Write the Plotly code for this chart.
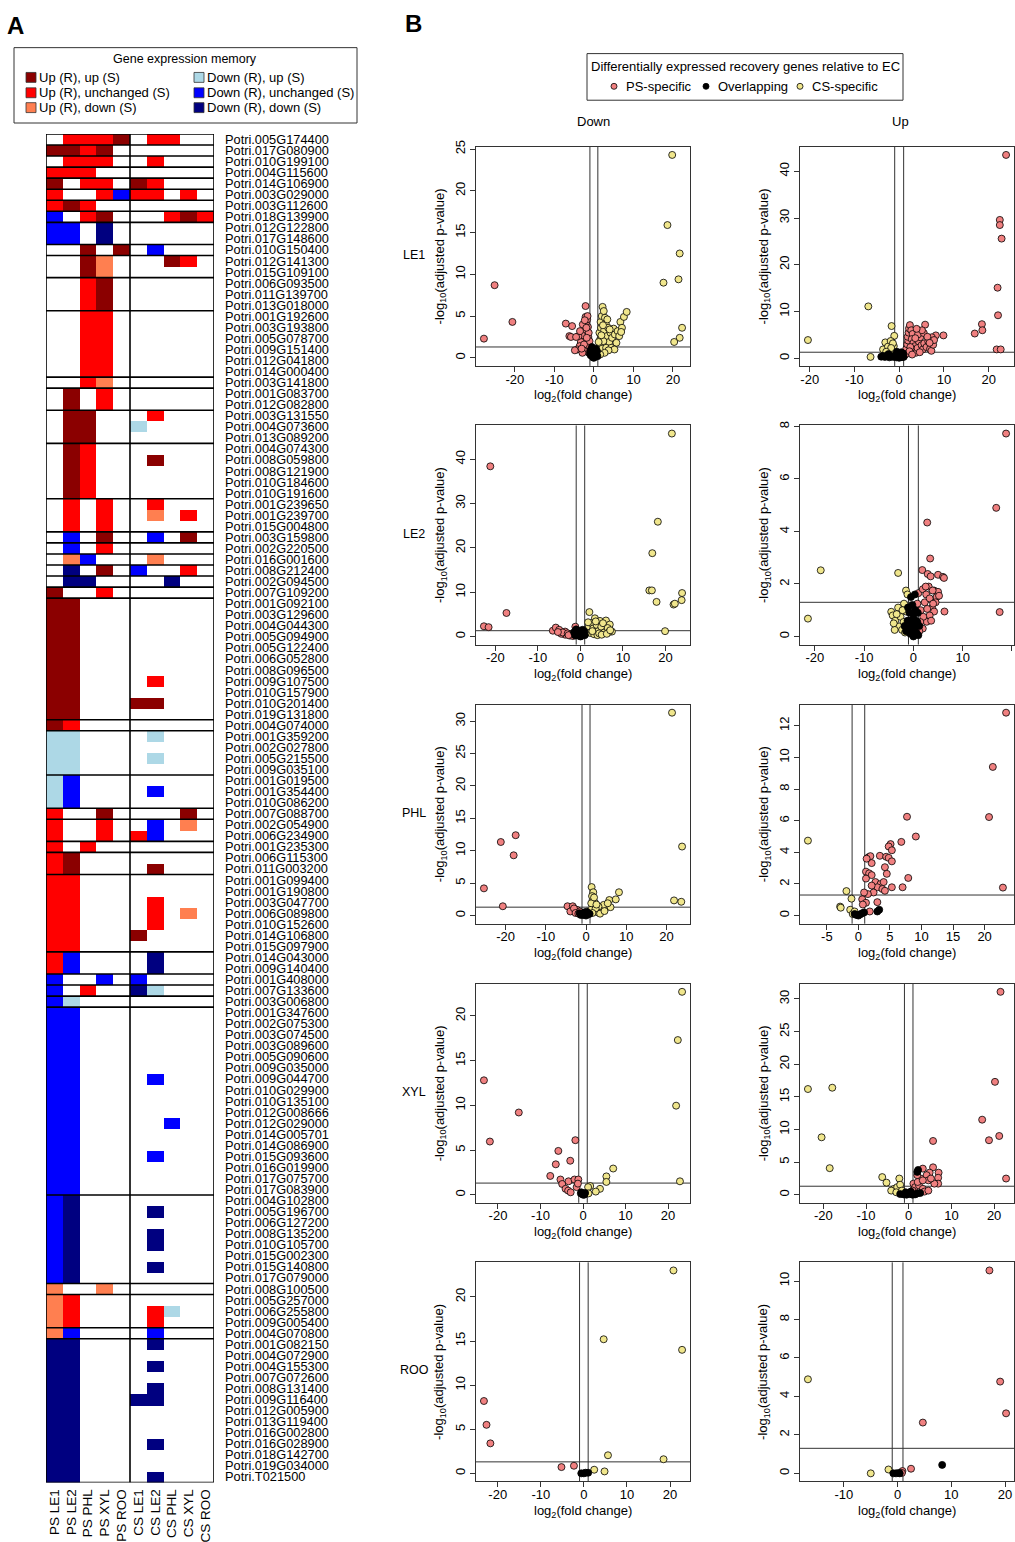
import math
import plotly.graph_objects as go

W, H = 1015, 1542
FONT = "Liberation Sans, Arial, Helvetica, sans-serif"

# ---------------- Panel A: gene expression memory heatmap ----------------
genes = [
    "Potri.005G174400", "Potri.017G080900", "Potri.010G199100", "Potri.004G115600",
    "Potri.014G106900", "Potri.003G029000", "Potri.003G112600", "Potri.018G139900",
    "Potri.012G122800", "Potri.017G148600", "Potri.010G150400", "Potri.012G141300",
    "Potri.015G109100", "Potri.006G093500", "Potri.011G139700", "Potri.013G018000",
    "Potri.001G192600", "Potri.003G193800", "Potri.005G078700", "Potri.009G151400",
    "Potri.012G041800", "Potri.014G000400", "Potri.003G141800", "Potri.001G083700",
    "Potri.012G082800", "Potri.003G131550", "Potri.004G073600", "Potri.013G089200",
    "Potri.004G074300", "Potri.008G059800", "Potri.008G121900", "Potri.010G184600",
    "Potri.010G191600", "Potri.001G239650", "Potri.001G239700", "Potri.015G004800",
    "Potri.003G159800", "Potri.002G220500", "Potri.016G001600", "Potri.008G212400",
    "Potri.002G094500", "Potri.007G109200", "Potri.001G092100", "Potri.003G129600",
    "Potri.004G044300", "Potri.005G094900", "Potri.005G122400", "Potri.006G052800",
    "Potri.008G096500", "Potri.009G107500", "Potri.010G157900", "Potri.010G201400",
    "Potri.019G131800", "Potri.004G074000", "Potri.001G359200", "Potri.002G027800",
    "Potri.005G215500", "Potri.009G035100", "Potri.001G019500", "Potri.001G354400",
    "Potri.010G086200", "Potri.007G088700", "Potri.002G054900", "Potri.006G234900",
    "Potri.001G235300", "Potri.006G115300", "Potri.011G003200", "Potri.001G099400",
    "Potri.001G190800", "Potri.003G047700", "Potri.006G089800", "Potri.010G152600",
    "Potri.014G106800", "Potri.015G097900", "Potri.014G043000", "Potri.009G140400",
    "Potri.001G408000", "Potri.007G133600", "Potri.003G006800", "Potri.001G347600",
    "Potri.002G075300", "Potri.003G074500", "Potri.003G089600", "Potri.005G090600",
    "Potri.009G035000", "Potri.009G044700", "Potri.010G029900", "Potri.010G135100",
    "Potri.012G008666", "Potri.012G029000", "Potri.014G005701", "Potri.014G086900",
    "Potri.015G093600", "Potri.016G019900", "Potri.017G075700", "Potri.017G083900",
    "Potri.004G102800", "Potri.005G196700", "Potri.006G127200", "Potri.008G135200",
    "Potri.010G105700", "Potri.015G002300", "Potri.015G140800", "Potri.017G079000",
    "Potri.008G100500", "Potri.005G257000", "Potri.006G255800", "Potri.009G005400",
    "Potri.004G070800", "Potri.001G082150", "Potri.004G072900", "Potri.004G155300",
    "Potri.007G072600", "Potri.008G131400", "Potri.009G116400", "Potri.012G005900",
    "Potri.013G119400", "Potri.016G002800", "Potri.016G028900", "Potri.018G142700",
    "Potri.019G034000", "Potri.T021500",
]

columns = ["PS LE1", "PS LE2", "PS PHL", "PS XYL", "PS ROO",
           "CS LE1", "CS LE2", "CS PHL", "CS XYL", "CS ROO"]

# 0 none, 1 Up/up, 2 Up/unchanged, 3 Up/down, 4 Down/up, 5 Down/unchanged, 6 Down/down
class_labels = ["", "Up (R), up (S)", "Up (R), unchanged (S)", "Up (R), down (S)",
                "Down (R), up (S)", "Down (R), unchanged (S)", "Down (R), down (S)"]
class_colors = ["#FFFFFF", "#8B0000", "#FF0000", "#FF7F50", "#ADD8E6", "#0000FF", "#000080"]

memory = [
    [0,2,2,2,1, 0,2,2,0,0],
    [1,1,2,1,0, 0,0,0,0,0],
    [0,2,2,2,0, 0,2,0,0,0],
    [2,2,2,0,0, 0,0,0,0,0],
    [1,0,2,2,0, 1,2,0,0,0],
    [2,0,0,2,5, 2,2,0,2,0],
    [2,1,2,0,0, 0,0,0,0,0],
    [5,0,2,1,0, 0,0,2,1,2],
    [5,5,0,6,0, 0,0,0,0,0],
    [5,5,0,6,0, 0,0,0,0,0],
    [0,0,1,0,1, 0,5,0,0,0],
    [0,0,1,3,0, 0,0,1,2,0],
    [0,0,1,3,0, 0,0,0,0,0],
    [0,0,2,1,0, 0,0,0,0,0],
    [0,0,2,1,0, 0,0,0,0,0],
    [0,0,2,1,0, 0,0,0,0,0],
    [0,0,2,2,0, 0,0,0,0,0],
    [0,0,2,2,0, 0,0,0,0,0],
    [0,0,2,2,0, 0,0,0,0,0],
    [0,0,2,2,0, 0,0,0,0,0],
    [0,0,2,2,0, 0,0,0,0,0],
    [0,0,2,2,0, 0,0,0,0,0],
    [0,0,2,3,0, 0,0,0,0,0],
    [0,1,0,2,0, 0,0,0,0,0],
    [0,1,0,2,0, 0,0,0,0,0],
    [0,1,1,0,0, 0,2,0,0,0],
    [0,1,1,0,0, 4,0,0,0,0],
    [0,1,1,0,0, 0,0,0,0,0],
    [0,1,2,0,0, 0,0,0,0,0],
    [0,1,2,0,0, 0,1,0,0,0],
    [0,1,2,0,0, 0,0,0,0,0],
    [0,1,2,0,0, 0,0,0,0,0],
    [0,1,2,0,0, 0,0,0,0,0],
    [0,2,0,2,0, 0,2,0,0,0],
    [0,2,0,2,0, 0,3,0,2,0],
    [0,2,0,2,0, 0,0,0,0,0],
    [0,5,0,1,0, 0,5,0,1,0],
    [0,5,0,2,0, 0,0,0,0,0],
    [0,3,5,0,0, 0,3,0,0,0],
    [0,6,0,1,0, 5,0,0,2,0],
    [0,6,6,0,0, 0,0,6,0,0],
    [1,0,0,2,0, 0,0,0,0,0],
    [1,1,0,0,0, 0,0,0,0,0],
    [1,1,0,0,0, 0,0,0,0,0],
    [1,1,0,0,0, 0,0,0,0,0],
    [1,1,0,0,0, 0,0,0,0,0],
    [1,1,0,0,0, 0,0,0,0,0],
    [1,1,0,0,0, 0,0,0,0,0],
    [1,1,0,0,0, 0,0,0,0,0],
    [1,1,0,0,0, 0,2,0,0,0],
    [1,1,0,0,0, 0,0,0,0,0],
    [1,1,0,0,0, 1,1,0,0,0],
    [1,1,0,0,0, 0,0,0,0,0],
    [1,2,0,0,0, 0,0,0,0,0],
    [4,4,0,0,0, 0,4,0,0,0],
    [4,4,0,0,0, 0,0,0,0,0],
    [4,4,0,0,0, 0,4,0,0,0],
    [4,4,0,0,0, 0,0,0,0,0],
    [4,5,0,0,0, 0,0,0,0,0],
    [4,5,0,0,0, 0,5,0,0,0],
    [4,5,0,0,0, 0,0,0,0,0],
    [2,0,0,1,0, 0,0,0,1,0],
    [2,0,0,2,0, 0,5,0,3,0],
    [2,0,0,2,0, 2,5,0,0,0],
    [2,0,2,0,0, 0,0,0,0,0],
    [2,1,0,0,0, 0,0,0,0,0],
    [2,1,0,0,0, 0,1,0,0,0],
    [2,2,0,0,0, 0,0,0,0,0],
    [2,2,0,0,0, 0,0,0,0,0],
    [2,2,0,0,0, 0,2,0,0,0],
    [2,2,0,0,0, 0,2,0,3,0],
    [2,2,0,0,0, 0,2,0,0,0],
    [2,2,0,0,0, 1,0,0,0,0],
    [2,2,0,0,0, 0,0,0,0,0],
    [2,5,0,0,0, 0,6,0,0,0],
    [2,5,0,0,0, 0,6,0,0,0],
    [5,0,0,5,0, 5,0,0,0,0],
    [5,0,2,0,0, 6,4,0,0,0],
    [5,4,0,0,0, 0,0,0,0,0],
    [5,5,0,0,0, 0,0,0,0,0],
    [5,5,0,0,0, 0,0,0,0,0],
    [5,5,0,0,0, 0,0,0,0,0],
    [5,5,0,0,0, 0,0,0,0,0],
    [5,5,0,0,0, 0,0,0,0,0],
    [5,5,0,0,0, 0,0,0,0,0],
    [5,5,0,0,0, 0,5,0,0,0],
    [5,5,0,0,0, 0,0,0,0,0],
    [5,5,0,0,0, 0,0,0,0,0],
    [5,5,0,0,0, 0,0,0,0,0],
    [5,5,0,0,0, 0,0,5,0,0],
    [5,5,0,0,0, 0,0,0,0,0],
    [5,5,0,0,0, 0,0,0,0,0],
    [5,5,0,0,0, 0,5,0,0,0],
    [5,5,0,0,0, 0,0,0,0,0],
    [5,5,0,0,0, 0,0,0,0,0],
    [5,5,0,0,0, 0,0,0,0,0],
    [5,6,0,0,0, 0,0,0,0,0],
    [5,6,0,0,0, 0,6,0,0,0],
    [5,6,0,0,0, 0,0,0,0,0],
    [5,6,0,0,0, 0,6,0,0,0],
    [5,6,0,0,0, 0,6,0,0,0],
    [5,6,0,0,0, 0,0,0,0,0],
    [5,6,0,0,0, 0,6,0,0,0],
    [5,6,0,0,0, 0,0,0,0,0],
    [3,0,0,3,0, 0,0,0,0,0],
    [3,2,0,0,0, 0,0,0,0,0],
    [3,2,0,0,0, 0,2,4,0,0],
    [3,2,0,0,0, 0,2,0,0,0],
    [3,5,0,0,0, 0,5,0,0,0],
    [6,6,0,0,0, 0,6,0,0,0],
    [6,6,0,0,0, 0,0,0,0,0],
    [6,6,0,0,0, 0,6,0,0,0],
    [6,6,0,0,0, 0,0,0,0,0],
    [6,6,0,0,0, 0,6,0,0,0],
    [6,6,0,0,0, 6,6,0,0,0],
    [6,6,0,0,0, 0,0,0,0,0],
    [6,6,0,0,0, 0,0,0,0,0],
    [6,6,0,0,0, 0,0,0,0,0],
    [6,6,0,0,0, 0,6,0,0,0],
    [6,6,0,0,0, 0,0,0,0,0],
    [6,6,0,0,0, 0,0,0,0,0],
    [6,6,0,0,0, 0,6,0,0,0],
]

# ---------------- Panel B: volcano plots (log2FC, -log10 adj. p) ----------------
FC_CUT = 1.0
P_CUT = -math.log10(0.05)

le1_down_ps = [(-27.8,2.3),(-25.1,8.7),(-20.6,4.3),(-7.1,4.1),(-5.5,3.8),(-6.2,2.6),(-5.8,2.5),
    (-1.3,0.6),(-1.5,1.1),(-1.6,1.8),(-1.4,2.5),(-1.8,3.1),(-1.5,3.7),(-1.9,4.3),(-2.1,4.9),
    (-1.7,4.6),(-2.1,6.2),(-2.4,2.2),(-2.6,3.3),(-2.8,4.0),(-3.0,2.7),(-3.3,1.9),(-3.6,1.4),
    (-3.9,2.6),(-4.2,1.0),(-4.5,2.5),(-2.2,1.2),(-2.0,0.8),(-2.9,0.6),(-1.2,1.4),(-1.3,3.0),
    (-1.1,2.0),(-3.5,3.2),(-4.8,0.9),(-1.6,5.0),(-2.3,4.5),(-1.9,3.6),(-2.5,1.6),(-3.1,1.1),(-1.8,2.4)]
le1_down_cs = [(19.8,24.3),(18.6,15.9),(21.7,12.5),(21.4,9.4),(17.6,9.0),(22.3,3.6),(21.7,2.4),(20.3,1.9),
    (1.3,0.7),(1.5,1.5),(1.6,2.2),(1.4,3.0),(1.8,3.6),(1.7,4.3),(2.0,5.0),(2.2,6.1),(2.5,5.6),
    (2.8,4.8),(3.0,4.1),(2.6,3.3),(3.3,2.6),(3.6,3.6),(3.9,1.9),(4.2,3.0),(4.6,2.4),(5.0,3.5),
    (5.3,2.8),(5.7,1.8),(6.0,3.2),(6.4,2.6),(6.7,4.3),(7.1,3.6),(7.6,4.9),(8.3,5.5),(2.1,1.1),
    (2.4,2.0),(3.1,1.2),(4.4,1.2),(5.2,1.0),(1.2,1.9),(1.9,2.7),(2.3,3.9),(3.4,4.6),(4.0,3.4),
    (6.9,3.1),(3.7,0.9),(2.7,0.6),(1.6,0.4)]
le1_down_ov = [(-0.9,0.9),(-0.6,0.5),(-0.3,0.2),(0.0,0.0),(0.3,0.15),(0.6,0.4),(0.8,0.8),(-0.8,0.3),
    (0.5,1.1),(-0.5,1.3),(0.2,0.6),(-0.2,0.05),(0.9,0.2),(-1.0,0.6)]

le1_up_ps = [(23.9,43.5),(22.5,29.6),(22.5,28.5),(22.9,25.6),(22.0,15.1),(22.1,9.2),(18.5,7.3),(18.6,6.0),
    (16.9,5.3),(21.8,1.9),(22.7,1.9),(9.9,4.9),(8.2,4.9),
    (1.2,0.6),(1.4,1.3),(1.6,2.1),(1.8,3.0),(2.0,3.8),(1.9,4.6),(2.1,5.5),(2.2,6.4),(2.4,7.1),
    (2.7,6.0),(3.0,5.2),(2.8,4.1),(3.2,3.3),(3.5,2.6),(3.3,1.8),(3.8,1.2),(4.1,2.2),(4.4,3.6),
    (4.7,4.5),(4.2,5.1),(5.0,2.8),(5.3,1.9),(5.6,3.2),(5.8,7.2),(5.5,5.4),(6.1,2.4),(6.5,3.6),
    (6.9,2.0),(7.3,4.5),(7.2,1.6),(7.6,2.9),(2.5,2.4),(3.6,4.3),(4.6,1.3),(1.5,0.9),(2.3,1.5),
    (6.3,4.6),(5.1,6.0),(3.9,6.3),(2.9,0.8),(7.8,3.9),(6.8,3.3)]
le1_up_cs = [(-20.4,3.9),(-6.9,11.1),(-6.4,0.3),(-1.7,6.9),(-3.1,3.4),(-1.1,4.8),(-3.6,1.9),(-2.5,2.5),
    (-1.9,3.7),(-1.5,1.8),(-1.3,0.8),(-1.6,1.4),(-2.0,1.0),(-2.3,0.6),(-1.2,2.6),(-1.4,3.2),
    (-1.8,2.2),(-2.9,1.4)]
le1_up_ov = [(-4.0,0.35),(-3.6,0.5),(-3.2,0.3),(-2.7,0.6),(-2.2,0.2),(-1.8,0.4),(-1.3,0.3),(-1.0,0.6),
    (-0.6,0.2),(-0.3,0.8),(0.0,0.1),(0.3,0.5),(0.6,0.25),(0.9,1.0),(0.5,1.3),(-0.5,1.4),(1.0,0.3),(-2.4,0.9)]

le2_down_ps = [(-21.2,38.4),(-17.4,5.3),(-22.7,2.3),(-21.6,2.1),(-6.5,1.3),(-5.8,2.0),(-5.0,1.5),
    (-3.6,1.1),(-3.6,0.4),(-2.5,0.2),(-1.8,0.1),(-1.2,2.2),(-1.2,1.3),(-4.5,0.6),(-4.2,0.9),
    (-3.0,0.7),(-2.2,0.5),(-1.5,0.9),(-5.3,1.0),(-2.8,0.3)]
le2_down_cs = [(21.5,45.8),(18.2,25.9),(16.9,18.8),(16.2,10.4),(16.8,10.4),(17.9,7.8),(21.9,7.2),(22.2,7.4),
    (23.9,9.8),(23.8,8.2),(19.9,1.2),
    (2.1,5.5),(3.4,4.1),(4.6,3.5),(6.0,3.6),(6.9,2.7),(7.4,1.1),(5.9,1.5),(1.5,1.5),(2.0,2.3),
    (2.6,3.0),(3.0,1.8),(3.8,2.6),(4.2,1.2),(4.9,2.2),(5.3,3.0),(5.6,0.9),(6.4,1.9),(6.7,1.0),
    (2.3,0.8),(3.2,0.5),(4.0,0.3),(1.2,0.6),(2.8,1.2),(4.4,0.7),(5.0,0.4),(6.2,0.6),(1.8,3.2),
    (3.6,3.4),(7.0,1.4)]
le2_down_ov = [(-1.5,0.9),(-1.0,1.6),(-0.8,0.5),(-0.5,0.2),(0.0,0.0),(0.3,0.4),(0.7,0.8),(1.0,0.3),
    (-0.3,1.1),(0.5,1.5),(-1.2,0.2),(0.2,0.1),(0.9,1.1),(-0.7,1.3)]

le2_up_ps = [(18.8,7.73),(16.8,4.9),(17.5,0.93),(2.8,4.34),(3.4,2.97),(1.8,2.53),(2.9,2.38),(3.5,2.29),
    (5.0,2.35),(6.0,2.27),(6.2,2.23),(6.3,0.95),
    (1.0,1.65),(1.9,1.8),(3.1,1.9),(4.2,1.75),(5.0,1.7),(4.7,1.5),(4.5,1.3),(3.8,1.1),(4.2,0.95),
    (3.3,0.8),(2.7,0.56),(1.9,0.3),(1.2,0.2),(1.5,1.0),(2.3,1.3),(0.8,1.25),(2.6,1.6),(3.3,1.45),
    (4.0,1.25),(2.0,0.75),(2.8,1.05),(3.6,0.6),(1.4,0.55),(5.2,1.55),(3.9,1.75),(2.5,1.9)]
le2_up_cs = [(-21.4,0.68),(-18.8,2.52),(-3.1,2.42),(-1.5,1.75),(-1.2,1.6),(-4.5,0.94),(-4.2,0.8),
    (-3.7,0.6),(-2.9,0.38),(-2.3,0.25),(-1.9,1.25),(-3.1,1.1),(-1.0,1.1),(-3.8,0.25),(-2.6,0.75),
    (-2.0,0.55),(-1.5,0.95),(-1.3,0.4),(-3.4,0.85),(-2.2,1.0),(-1.7,0.15),(-4.0,0.5)]
le2_up_ov = [(-1.8,0.4),(-1.5,0.2),(-1.2,0.6),(-1.0,0.3),(-0.8,0.9),(-0.6,0.1),(-0.4,0.5),(-0.2,1.2),
    (0.0,0.0),(0.0,0.7),(0.2,0.3),(0.4,1.0),(0.6,0.15),(0.8,0.55),(1.0,0.05),(1.2,0.4),(-0.5,1.5),
    (0.3,1.6),(-1.1,1.1),(0.9,0.9),(-0.3,0.25),(0.5,0.6),(-0.9,0.6),(0.1,0.9),(-0.1,0.4)]

phl_down_ps = [(-25.4,4.2),(-21.2,11.35),(-17.5,12.4),(-18.0,9.3),(-20.7,1.44),(-4.6,1.44),(-3.3,1.44),
    (-3.9,0.64),(-2.3,0.9),(-3.0,1.1),(-1.6,0.64),(-2.6,0.4),(-1.9,0.3)]
phl_down_cs = [(21.4,31.3),(23.9,10.65),(21.9,2.34),(23.7,2.13),(1.4,4.4),(1.8,3.6),(1.7,2.5),(2.2,2.0),
    (1.9,1.3),(1.2,0.9),(2.9,0.5),(3.9,0.9),(5.0,1.3),(5.8,2.4),(6.1,1.3),(7.4,2.5),(8.2,3.6),
    (4.4,1.65),(3.1,1.4),(1.5,3.0),(1.3,1.9),(2.0,2.8),(2.4,1.1),(1.6,0.4),(3.5,0.3),(4.6,0.7),
    (5.4,1.9),(2.6,1.7)]
phl_down_ov = [(-1.6,0.37),(-1.1,0.27),(-0.7,0.1),(0.0,0.0),(0.5,0.2),(0.9,0.27),(-0.4,0.5),(0.2,0.6),(-1.3,0.1)]

phl_up_ps = [(23.4,12.83),(21.3,9.4),(20.7,6.23),(22.9,1.77),(7.7,6.25),(9.1,5.0),(6.8,4.66),(5.1,4.52),
    (4.8,4.37),(5.3,4.13),(3.4,3.78),(4.4,3.72),(4.8,3.65),(5.3,3.43),(4.2,3.06),(4.5,2.64),
    (1.6,3.69),(1.9,3.76),(2.1,3.32),(1.3,3.6),(7.9,2.38),(7.0,1.79),(5.3,1.79),(1.2,2.78),
    (1.7,2.67),(2.1,2.56),(2.7,2.12),(3.5,2.0),(4.0,2.12),(3.0,1.79),(3.8,1.68),(4.2,1.57),
    (2.4,1.46),(1.5,1.36),(0.9,1.46),(0.6,1.03),(1.2,0.81),(1.8,0.26),(3.0,0.85),(0.7,0.7),
    (1.2,2.34),(2.1,1.9)]
phl_up_cs = [(-8.0,4.74),(-1.9,1.55),(-1.1,1.07),(-2.9,0.57),(-2.8,0.5),(-1.3,0.37),(-0.9,0.1),(-0.6,0.26)]
phl_up_ov = [(3.0,0.26),(3.3,0.37),(-0.6,0.1),(-0.3,0.04),(0.0,0.0),(0.3,0.08),(0.6,0.15),(0.9,0.2)]

xyl_down_ps = [(-23.3,12.8),(-15.1,9.2),(-21.9,5.95),(-1.8,6.1),(-5.8,4.9),(-3.0,3.8),(-6.4,3.4),
    (-7.7,2.1),(-5.3,1.7),(-4.9,1.2),(-3.4,1.5),(-2.0,1.7),(-1.1,1.7),(-4.1,0.66),(-3.5,0.46),
    (-2.9,0.27),(-1.5,0.85),(-1.2,1.24)]
xyl_down_cs = [(23.3,22.7),(22.3,17.3),(21.9,9.96),(22.8,1.5),(7.1,2.93),(5.5,2.05),(5.5,1.43),
    (4.0,0.66),(3.0,0.35),(1.7,0.97),(1.2,0.85),(1.3,0.15)]
xyl_down_ov = [(-0.5,0.15),(0.0,0.0),(0.3,0.0),(0.5,0.2),(-0.4,0.27)]

xyl_up_ps = [(21.5,31.1),(20.2,17.3),(17.2,11.5),(18.8,8.35),(21.2,9.0),(5.7,8.24),(22.8,2.48),
    (3.3,4.0),(5.7,4.2),(7.0,3.38),(6.9,2.6),(4.9,3.38),(4.2,3.0),(4.6,2.2),(6.9,1.7),(6.0,1.7),
    (5.2,2.48),(2.8,2.48),(2.0,3.0),(1.1,1.7),(1.5,1.16),(2.4,1.43),(3.3,0.9),(3.7,0.48),
    (4.6,0.63),(0.9,0.63),(2.1,1.95),(3.3,2.2)]
xyl_up_cs = [(-23.6,16.2),(-17.9,16.4),(-20.4,8.8),(-18.5,4.07),(-6.2,2.7),(-5.2,1.85),(-2.2,2.48),
    (-3.4,0.9),(-2.7,1.16),(-2.0,1.53),(-4.1,0.63),(-2.9,0.37),(-1.6,0.63)]
xyl_up_ov = [(2.2,3.8),(2.0,3.5),(-2.0,0.1),(-1.2,0.05),(-0.5,0.0),(0.2,0.1),(0.9,0.0),(1.5,0.05),
    (2.0,0.2),(-0.7,0.37),(0.5,0.48),(2.7,0.26)]

roo_down_ps = [(-23.2,8.2),(-22.6,5.5),(-21.7,3.4),(-5.2,0.71),(-2.3,0.86)]
roo_down_cs = [(20.8,23.0),(4.6,15.2),(22.8,14.0),(5.6,2.05),(18.5,1.6),(2.4,0.41),(4.8,0.22)]
roo_down_ov = [(-0.6,0.0),(0.0,0.0),(0.4,0.07),(1.0,0.07)]

roo_up_ps = [(17.1,10.55),(19.1,4.77),(20.2,3.12),(4.7,2.64),(2.5,0.24),(0.9,0.12),(0.8,0.02)]
roo_up_cs = [(-16.7,4.89),(-5.0,0.0),(-1.7,0.2)]
roo_up_ov = [(8.3,0.44),(-0.8,0.0),(-0.3,0.0),(0.2,0.02),(0.4,0.0)]

# axis tick values (as labelled in the original)
x_ticks_10 = [-20, -10, 0, 10, 20]
x_ticks_phl_up = [-5, 0, 5, 10, 15, 20]
x_ticks_roo_up = [-10, 0, 10, 20]
y_ticks = {
    ("LE1", "Down"): [0, 5, 10, 15, 20, 25], ("LE1", "Up"): [0, 10, 20, 30, 40],
    ("LE2", "Down"): [0, 10, 20, 30, 40], ("LE2", "Up"): [0, 2, 4, 6, 8],
    ("PHL", "Down"): [0, 5, 10, 15, 20, 25, 30], ("PHL", "Up"): [0, 2, 4, 6, 8, 10, 12],
    ("XYL", "Down"): [0, 5, 10, 15, 20], ("XYL", "Up"): [0, 5, 10, 15, 20, 25, 30],
    ("ROO", "Down"): [0, 5, 10, 15, 20], ("ROO", "Up"): [0, 2, 4, 6, 8, 10],
}
x_ticks = {("PHL", "Up"): x_ticks_phl_up, ("ROO", "Up"): x_ticks_roo_up}

tissues = ["LE1", "LE2", "PHL", "XYL", "ROO"]
directions = ["Down", "Up"]
volcano = {
    ("LE1", "Down"): (le1_down_ps, le1_down_cs, le1_down_ov),
    ("LE1", "Up"): (le1_up_ps, le1_up_cs, le1_up_ov),
    ("LE2", "Down"): (le2_down_ps, le2_down_cs, le2_down_ov),
    ("LE2", "Up"): (le2_up_ps, le2_up_cs, le2_up_ov),
    ("PHL", "Down"): (phl_down_ps, phl_down_cs, phl_down_ov),
    ("PHL", "Up"): (phl_up_ps, phl_up_cs, phl_up_ov),
    ("XYL", "Down"): (xyl_down_ps, xyl_down_cs, xyl_down_ov),
    ("XYL", "Up"): (xyl_up_ps, xyl_up_cs, xyl_up_ov),
    ("ROO", "Down"): (roo_down_ps, roo_down_cs, roo_down_ov),
    ("ROO", "Up"): (roo_up_ps, roo_up_cs, roo_up_ov),
}
group_names = ["PS-specific", "Overlapping", "CS-specific"]
group_colors = {"PS-specific": "#F08080", "Overlapping": "#000000", "CS-specific": "#F0E68C"}

# ---------------- layout geometry (pixels) ----------------
def px(x):
    return x / W

def py(y):
    return 1 - y / H

HM_LEFT, HM_RIGHT, HM_TOP, HM_BOTTOM = 46, 214, 128, 1488
row_tops = [141, 422, 703.5, 985, 1266]
BOX_H = 221
col_px = {"Down": (476, 690), "Up": (800, 1014)}
FS = 13  # main text size


def r_range(vals):
    lo, hi = min(vals), max(vals)
    pad = 0.04 * (hi - lo)
    return [lo - pad, hi + pad]


fig = go.Figure()
shapes = []
annotations = []


def text(t, x, y, size=FS, xanchor="center", yanchor="middle", angle=0):
    annotations.append(dict(text=t, x=px(x), y=py(y), xref="paper", yref="paper",
                            xanchor=xanchor, yanchor=yanchor, showarrow=False,
                            textangle=angle, font=dict(size=size, family=FONT, color="black")))


# heatmap
n_cls = len(class_colors) - 1
colorscale = []
for k, c in enumerate(class_colors):
    lo = max(0.0, (k - 0.5) / n_cls)
    hi = min(1.0, (k + 0.5) / n_cls)
    colorscale.append([lo, c])
    colorscale.append([hi, c])

fig.add_trace(go.Heatmap(
    z=memory, x=list(range(len(columns))), y=list(range(len(genes))),
    colorscale=colorscale, zmin=0, zmax=n_cls, showscale=False, hoverinfo="skip",
    xaxis="x", yaxis="y"))

layout_axes = {}
layout_axes["xaxis"] = dict(domain=[px(HM_LEFT), px(HM_RIGHT)], range=[-0.5, len(columns) - 0.5],
                            tickmode="array", tickvals=list(range(len(columns))), ticktext=columns,
                            tickangle=-90, ticks="", showgrid=False, zeroline=False, showline=False,
                            anchor="y", tickfont=dict(size=13.5, family=FONT, color="black"),
                            ticklabelstandoff=3, fixedrange=True)
layout_axes["yaxis"] = dict(domain=[py(HM_BOTTOM), py(HM_TOP)], range=[len(genes) - 0.5, -0.5],
                            tickmode="array", tickvals=list(range(len(genes))), ticktext=genes,
                            side="right", ticks="", showgrid=False, zeroline=False, showline=False,
                            anchor="x", tickfont=dict(size=12.8, family=FONT, color="black"),
                            ticklabelstandoff=10, fixedrange=True)

line_black = dict(color="black", width=1.6)
ncol = len(columns)
# group separators wherever the primed-stress pattern changes
for i in range(1, len(memory)):
    if memory[i][:5] != memory[i - 1][:5]:
        shapes.append(dict(type="line", xref="x", yref="y", x0=-0.5, x1=ncol - 0.5,
                           y0=i - 0.5, y1=i - 0.5, line=line_black, layer="above"))
shapes.append(dict(type="line", xref="x", yref="y", x0=4.5, x1=4.5, y0=-0.5,
                   y1=len(genes) - 0.5, line=line_black, layer="above"))
shapes.append(dict(type="rect", xref="x", yref="y", x0=-0.5, x1=ncol - 0.5, y0=-0.5,
                   y1=len(genes) - 0.5, line=line_black, layer="above"))

# volcano plots
n = 2
for r, tissue in enumerate(tissues):
    top = row_tops[r]
    bottom = top + BOX_H
    for d in directions:
        ps, cs, ov = volcano[(tissue, d)]
        allx = [p[0] for p in ps + cs + ov]
        ally = [p[1] for p in ps + cs + ov]
        xa, ya = f"x{n}", f"y{n}"
        for name, pts in (("PS-specific", ps), ("CS-specific", cs), ("Overlapping", ov)):
            fig.add_trace(go.Scatter(
                x=[p[0] for p in pts], y=[p[1] for p in pts], mode="markers", name=name,
                marker=dict(size=7, color=group_colors[name], line=dict(color="black", width=0.8)),
                xaxis=xa, yaxis=ya, showlegend=False, hoverinfo="skip"))
        left, right = col_px[d]
        xt = x_ticks.get((tissue, d), x_ticks_10)
        yt = y_ticks[(tissue, d)]
        layout_axes[f"xaxis{n}"] = dict(
            domain=[px(left), px(right)], range=r_range(allx), anchor=ya,
            tickmode="array", tickvals=xt, ticktext=[str(v) for v in xt],
            ticks="outside", ticklen=5, tickcolor="#333", showgrid=False, zeroline=False,
            showline=True, mirror=True, linecolor="#333", linewidth=1, ticklabelstandoff=-4,
            tickfont=dict(size=FS, family=FONT, color="black"), fixedrange=True)
        layout_axes[f"yaxis{n}"] = dict(
            domain=[py(bottom), py(top)], range=r_range(ally), anchor=xa,
            tickmode="array", tickvals=yt, ticktext=[str(v) for v in yt], tickangle=-90,
            ticks="outside", ticklen=5, tickcolor="#333", showgrid=False, zeroline=False,
            showline=True, mirror=True, linecolor="#333", linewidth=1,
            tickfont=dict(size=FS, family=FONT, color="black"), fixedrange=True)
        thr = dict(color="#333", width=1)
        for xv in (-FC_CUT, FC_CUT):
            shapes.append(dict(type="line", xref=xa, yref=f"{ya} domain", x0=xv, x1=xv, y0=0, y1=1,
                               line=thr, layer="below"))
        shapes.append(dict(type="line", xref=f"{xa} domain", yref=ya, x0=0, x1=1, y0=P_CUT, y1=P_CUT,
                           line=thr, layer="below"))
        # axis titles
        text("log<sub>2</sub>(fold change)", (left + right) / 2, bottom + 30)
        text("-log<sub>10</sub>(adjusted p-value)", left - 36, (top + bottom) / 2, angle=-90)
        n += 1
    text(tissue, 414, top + 109, size=12.5)

text("Down", 593, 115)
text("Up", 900, 115)

# panel letters
text("<b>A</b>", 16, 19, size=24)
text("<b>B</b>", 413, 17, size=24)

# legend A (gene expression memory)
shapes.append(dict(type="rect", xref="paper", yref="paper", x0=px(14), x1=px(357), y0=py(117), y1=py(41),
                   line=dict(color="#333", width=1)))
text("Gene expression memory", 185, 52, size=12.5)
leg_rows = [71, 86.5, 101.5]
for k in range(1, 7):
    col = 0 if k <= 3 else 1
    row = (k - 1) % 3
    sx = 26 if col == 0 else 194
    sy = leg_rows[row]
    shapes.append(dict(type="rect", xref="paper", yref="paper", x0=px(sx), x1=px(sx + 10),
                       y0=py(sy + 5), y1=py(sy - 5), fillcolor=class_colors[k],
                       line=dict(color="#333", width=0.8)))
    text(class_labels[k], sx + 11, sy, xanchor="left")

# legend B (volcano groups)
shapes.append(dict(type="rect", xref="paper", yref="paper", x0=px(587), x1=px(903), y0=py(94), y1=py(47),
                   line=dict(color="#333", width=1)))
text("Differentially expressed recovery genes relative to EC", 745, 60)
leg_b_x = {"PS-specific": 614, "Overlapping": 706, "CS-specific": 800}
for name in group_names:
    cx = leg_b_x[name]
    shapes.append(dict(type="circle", xref="paper", yref="paper", xsizemode="pixel", ysizemode="pixel",
                       xanchor=px(cx), yanchor=py(80), x0=-3, x1=3, y0=-3, y1=3,
                       fillcolor=group_colors[name], line=dict(color="black", width=0.8)))
    text(name, cx + 10, 80, xanchor="left")

fig.update_layout(
    width=W, height=H, margin=dict(l=0, r=0, t=0, b=0),
    paper_bgcolor="white", plot_bgcolor="white",
    font=dict(family=FONT, size=FS, color="black"),
    showlegend=False, shapes=shapes, annotations=annotations,
    **layout_axes)

page_fix = ("document.documentElement.style.overflow='hidden';"
            "document.body.style.margin='0';document.body.style.padding='0';"
            "document.body.style.overflow='hidden';")
fig.write_html("out.html", post_script=page_fix, config={"displayModeBar": False})
